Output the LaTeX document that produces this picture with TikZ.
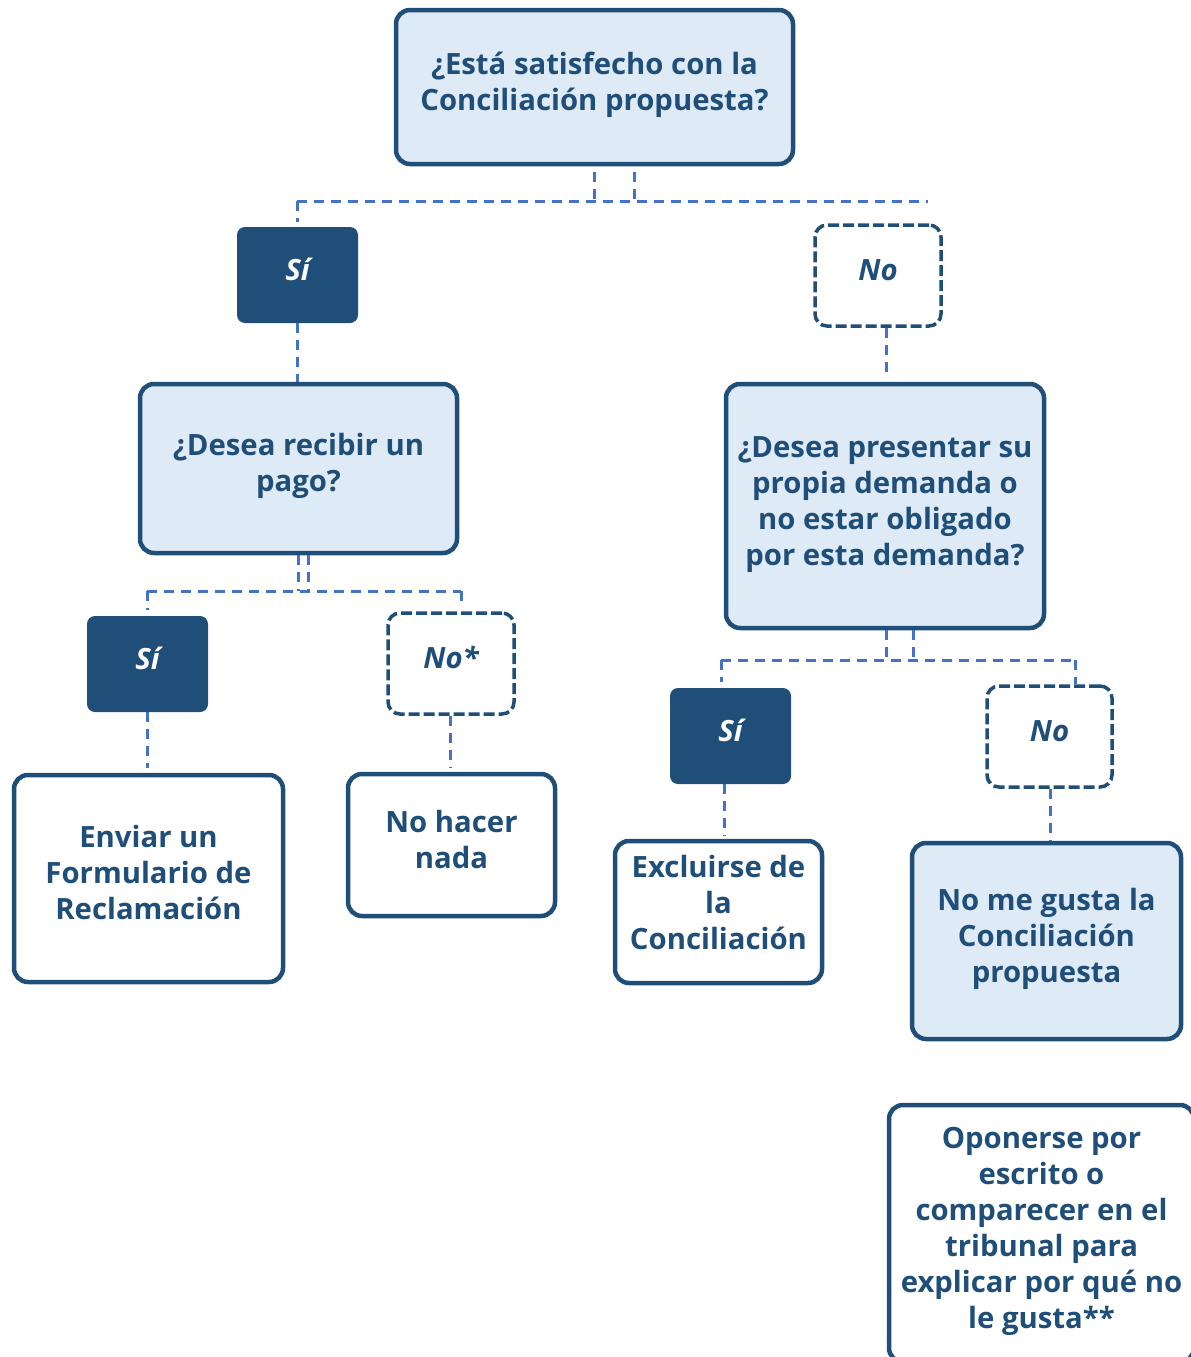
\documentclass[tikz,border=0pt]{standalone}
\usepackage{fontspec}
\setmainfont{Open Sans}[BoldFont={* Bold},BoldItalicFont={* Bold Italic}]
\definecolor{dblue}{HTML}{1F4E79}
\definecolor{lblue}{HTML}{DEEAF6}
\definecolor{cblue}{HTML}{4472C4}
\newcommand\Ls{\vrule height23pt depth13pt width0pt\relax}
\newcommand\Lsdeep{\vrule height23pt depth21pt width0pt\relax}
\begin{document}
\begin{tikzpicture}[x=1pt,y=-1pt,
  font=\fontsize{29.3}{36}\selectfont\bfseries,
  base/.style={rectangle,rounded corners=14pt,line width=4.5pt,draw=dblue,text=dblue,align=center,inner sep=0pt},
  qbox/.style={base,fill=lblue},
  wbox/.style={base,fill=white},
  yesbox/.style={rectangle,rounded corners=8pt,fill=dblue,text=white,font=\fontsize{29.3}{36}\selectfont\bfseries\itshape,inner sep=0pt},
  nobox/.style={rectangle,rounded corners=12pt,line width=3.5pt,draw=dblue,dash pattern=on 11pt off 4pt,fill=white,text=dblue,font=\fontsize{29.3}{36}\selectfont\bfseries\itshape,inner sep=0pt},
  conn/.style={draw=cblue,line width=3pt,dash pattern=on 10pt off 7pt}
]
\useasboundingbox (0,0) rectangle (1191,1357);
\clip (0,0) rectangle (1191,1357);
% nodes
\node[qbox,minimum width=397pt,minimum height=154pt] (top) at (594.5,87) {\Ls¿Está satisfecho con la\\\Ls Conciliación propuesta?};
\node[yesbox,minimum width=121pt,minimum height=96pt] (si1) at (297.5,275) {\Ls Sí};
\node[nobox,minimum width=126pt,minimum height=101pt] (no1) at (878,275.5) {\Ls No};
\node[qbox,minimum width=317pt,minimum height=169pt] (q2) at (298.5,468.5) {\Ls¿Desea recibir un\\\Ls pago?};
\node[qbox,minimum width=318pt,minimum height=244pt] (q3) at (885,506) {\Ls¿Desea presentar su\\\Ls propia demanda o\\\Ls no estar obligado\\\Ls por esta demanda?};
\node[yesbox,minimum width=121pt,minimum height=96pt] (si2) at (147.5,664) {\Ls Sí};
\node[nobox,minimum width=126pt,minimum height=101pt] (no2) at (451,663.5) {\Ls No*};
\node[yesbox,minimum width=121pt,minimum height=96pt] (si3) at (730.5,736) {\Ls Sí};
\node[nobox,minimum width=125pt,minimum height=101pt] (no3) at (1049.5,736.5) {\Ls No};
\node[wbox,minimum width=269pt,minimum height=207pt] (enviar) at (148.5,878.5) {\Ls Enviar un\\\Ls Formulario de\\\Ls Reclamación};
\node[wbox,minimum width=207pt,minimum height=142pt] (nohacer) at (451.5,845) {\Ls No hacer\\\Ls nada};
\node[wbox,minimum width=207pt,minimum height=142pt] (excl) at (718.5,912) {\Ls Excluirse de\\\Ls la\\\Lsdeep Conciliación};
\node[qbox,minimum width=269pt,minimum height=196pt] (nogusta) at (1046.5,941) {\Ls No me gusta la\\\Ls Conciliación\\\Ls propuesta};
\node[wbox,minimum width=305pt,minimum height=257pt] (oponer) at (1041.5,1233.5) {\Ls Oponerse por\\\Ls escrito o\\\Ls comparecer en el\\\Ls tribunal para\\\Ls explicar por qué no\\\Ls le gusta**};
% junction coordinates
\coordinate (j1a) at (594,201);
\coordinate (j1b) at (634,201);
\coordinate (j1l) at (297,201);
\coordinate (j1r) at (928,201);
\coordinate (j2a) at (298,591);
\coordinate (j2b) at (308,591);
\coordinate (j2l) at (147,591);
\coordinate (j2r) at (461,591);
\coordinate (j3a) at (886,660);
\coordinate (j3b) at (913,660);
\coordinate (j3l) at (721,660);
\coordinate (j3r) at (1075,660);
% connectors
\draw[conn] ([yshift=-6pt]top.south -| j1a) -- (j1a);
\draw[conn] ([yshift=-6pt]top.south -| j1b) -- (j1b);
\draw[conn] (j1l) -- (j1r);
\draw[conn] (j1l) -- ([yshift=5pt]si1.north -| j1l);
\draw[conn] (si1.south) -- (q2.north -| si1.south);
\draw[conn] (no1.south -| j3a) -- ([yshift=9pt]q3.north -| j3a);
\draw[conn] (q2.south -| j2a) -- (j2a);
\draw[conn] (q2.south -| j2b) -- (j2b);
\draw[conn] (j2l) -- (j2r);
\draw[conn] (j2l) -- ([yshift=6pt]si2.north -| j2l);
\draw[conn] (j2r) -- ([yshift=8pt]no2.north -| j2r);
\draw[conn] (si2.south) -- ([yshift=5pt]enviar.north -| si2.south);
\draw[conn] ([xshift=-1pt]no2.south) -- ([xshift=-1pt,yshift=4pt]nohacer.north -| no2.south);
\draw[conn] (q3.south -| j3a) -- (j3a);
\draw[conn] (q3.south -| j3b) -- (j3b);
\draw[conn] (j3l) -- (j3r);
\draw[conn] (j3l) -- ([yshift=6pt]si3.north -| j3l);
\draw[conn] (j3r) -- (no3.north -| j3r);
\draw[conn] (si3.south -| 724,0) -- ([yshift=3pt]excl.north -| 724,0);
\draw[conn] (no3.south -| 1050,0) -- (nogusta.north -| 1050,0);
\end{tikzpicture}
\end{document}
